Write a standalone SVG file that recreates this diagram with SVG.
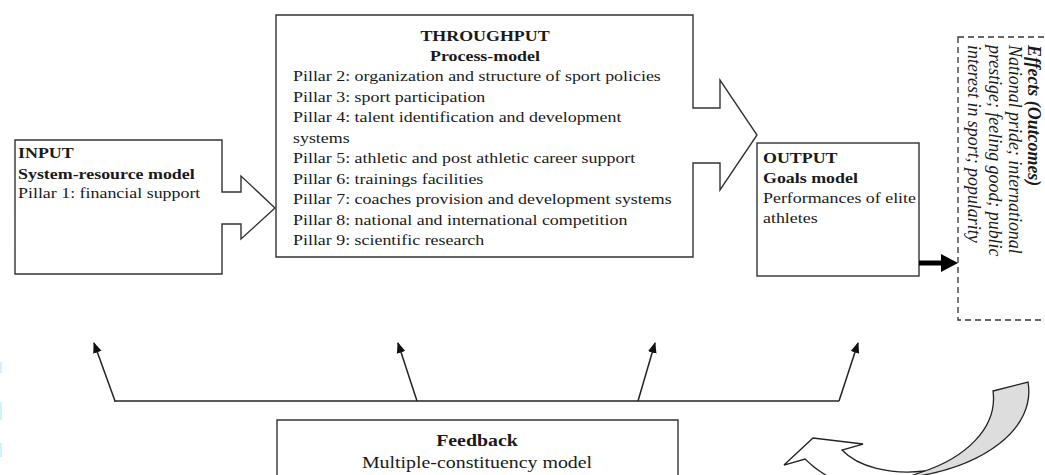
<svg xmlns="http://www.w3.org/2000/svg" width="1045" height="475" viewBox="0 0 1045 475">
<defs>
<style>
.box{fill:#fff;stroke:#333;stroke-width:1.4}
.t{font-family:"Liberation Serif","Times New Roman",serif;font-size:15.3px;fill:#1a1a1a}
.b{font-weight:bold}
.r{font-family:"Liberation Serif","Times New Roman",serif;font-size:17.9px;font-style:italic;fill:#1a1a1a}
.ln{stroke:#222;stroke-width:1.5;fill:none}
</style>
<marker id="ah" viewBox="0 0 10 10" refX="9" refY="5" markerWidth="11" markerHeight="11" markerUnits="userSpaceOnUse" orient="auto"><path d="M0,1 L10,5 L0,9 Z" fill="#111"/></marker>
</defs>
<rect width="1045" height="475" fill="#fff"/>
<rect x="0" y="362" width="2" height="11" fill="#c8f6fc"/>
<rect x="0" y="402" width="2" height="18" fill="#c8f6fc"/>
<rect x="0" y="443" width="2" height="14" fill="#c8f6fc"/>

<g id="input">
<path class="box" d="M15,140 H222 V192 H241 V176 L275,208 L241,239 V224 H222 V274 H15 Z"/>
<g transform="translate(18,0) scale(1.17,1)">
<text class="t b" x="0" y="158">INPUT</text>
<text class="t b" x="0" y="179">System-resource model</text>
<text class="t" x="0" y="198">Pillar 1: financial support</text>
</g>
</g>

<g id="throughput">
<path class="box" d="M276,15 H693 V108 H720 V80 L757,135 L720,190 V163 H693 V257 H276 Z"/>
<g transform="translate(485,0) scale(1.17,1)">
<text class="t b" x="0" y="41" text-anchor="middle">THROUGHPUT</text>
<text class="t b" x="0" y="61" text-anchor="middle">Process-model</text>
</g>
<g transform="translate(293,0) scale(1.17,1)">
<text class="t" x="0" y="81">Pillar 2: organization and structure of sport policies</text>
<text class="t" x="0" y="102">Pillar 3: sport participation</text>
<text class="t" x="0" y="122">Pillar 4: talent identification and development</text>
<text class="t" x="0" y="143">systems</text>
<text class="t" x="0" y="163">Pillar 5: athletic and post athletic career support</text>
<text class="t" x="0" y="184">Pillar 6: trainings facilities</text>
<text class="t" x="0" y="204">Pillar 7: coaches provision and development systems</text>
<text class="t" x="0" y="225">Pillar 8: national and international competition</text>
<text class="t" x="0" y="245">Pillar 9: scientific research</text>
</g>
</g>

<g id="output">
<rect class="box" x="757" y="143" width="162" height="133"/>
<g transform="translate(763,0) scale(1.17,1)">
<text class="t b" x="0" y="163">OUTPUT</text>
<text class="t b" x="0" y="183">Goals model</text>
<text class="t" x="0" y="203">Performances of elite</text>
<text class="t" x="0" y="223">athletes</text>
</g>
</g>

<g id="effects">
<rect x="958" y="37" width="100" height="283" fill="none" stroke="#333" stroke-width="1.3" stroke-dasharray="6,4"/>
<text class="r b" transform="translate(1028,45) rotate(90) scale(1,1.04)">Effects (Outcomes)</text>
<text class="r" transform="translate(1009,45) rotate(90) scale(1,1.04)">National pride; international</text>
<text class="r" transform="translate(989,45) rotate(90) scale(1,1.04)">prestige; feeling good; public</text>
<text class="r" transform="translate(968,45) rotate(90) scale(1,1.04)">interest in sport; popularity</text>
</g>

<g id="feedback">
<path class="box" d="M277,478 V420 H678 V478"/>
<g transform="translate(477,0) scale(1.15,1)">
<text class="t b" x="0" y="446" text-anchor="middle" style="font-size:17.3px">Feedback</text>
<text class="t" x="0" y="468" text-anchor="middle" style="font-size:17.3px">Multiple-constituency model</text>
</g>
</g>

<g id="connectors">
<line x1="919" y1="263" x2="943" y2="263" stroke="#000" stroke-width="5"/>
<path d="M941,254 L958,263 L941,272 Z" fill="#000"/>
<line class="ln" x1="114" y1="401" x2="839" y2="401"/>
<line class="ln" x1="115" y1="401" x2="94" y2="343" marker-end="url(#ah)"/>
<line class="ln" x1="417" y1="401" x2="398" y2="343" marker-end="url(#ah)"/>
<line class="ln" x1="638" y1="401" x2="655" y2="343" marker-end="url(#ah)"/>
<line class="ln" x1="839" y1="401" x2="858" y2="343" marker-end="url(#ah)"/>
<path d="M993,391 L1028,382 C1036,428 985,468 905,478 L922,472 C965,458 998,428 993,391 Z" fill="#ddd" stroke="#222" stroke-width="1.3"/>
<path d="M835,480 C822,474 812,466 805,459 L784,465 L813,438 L863,444 L842,450 C858,467 890,475 925,471" fill="#fff" stroke="#222" stroke-width="1.3"/>
</g>
</svg>
